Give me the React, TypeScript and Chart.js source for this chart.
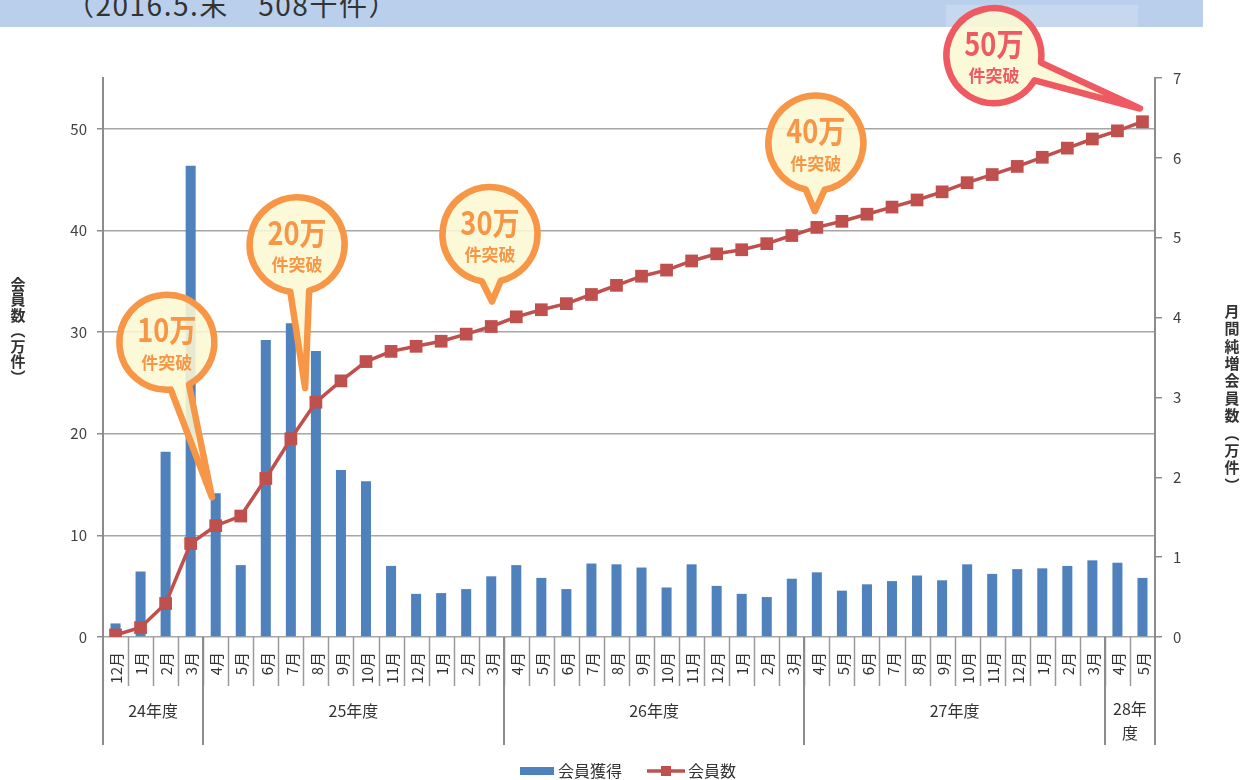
import React, { useEffect, useRef } from 'react';
import { Chart, registerables } from 'chart.js';

Chart.register(...registerables);

const FONT = "'Noto Sans CJK JP', 'Noto Sans', sans-serif";

// ---- data ----
const months = [
  '12月', '1月', '2月', '3月',
  '4月', '5月', '6月', '7月', '8月', '9月', '10月', '11月', '12月', '1月', '2月', '3月',
  '4月', '5月', '6月', '7月', '8月', '9月', '10月', '11月', '12月', '1月', '2月', '3月',
  '4月', '5月', '6月', '7月', '8月', '9月', '10月', '11月', '12月', '1月', '2月', '3月',
  '4月', '5月',
];
const fiscalYears = ['24年度', '25年度', '26年度', '27年度', '28年\n度'];
const fiscalYearSpans = [4, 12, 12, 12, 2];

// 月間純増会員数（万件） – right axis
const memberGain = [
  0.17, 0.82, 2.32, 5.9,
  1.8, 0.9, 3.72, 3.93, 3.58, 2.09, 1.95, 0.89, 0.54, 0.55, 0.6, 0.76,
  0.9, 0.74, 0.6, 0.92, 0.91, 0.87, 0.62, 0.91, 0.64, 0.54, 0.5, 0.73,
  0.81, 0.58, 0.66, 0.7, 0.77, 0.71, 0.91, 0.79, 0.85, 0.86, 0.89, 0.96,
  0.93, 0.74,
];
// 会員数（万件） – left axis
const memberTotal = [
  0.2, 0.93, 3.3, 9.2,
  10.95, 11.9, 15.6, 19.5, 23.1, 25.2, 27.1, 28.1, 28.6, 29.1, 29.8, 30.55,
  31.5, 32.2, 32.8, 33.7, 34.6, 35.5, 36.1, 37.0, 37.7, 38.1, 38.7, 39.5,
  40.3, 40.9, 41.6, 42.3, 43.0, 43.8, 44.7, 45.5, 46.3, 47.2, 48.1, 49.0,
  49.8, 50.7,
];

const leftTitle = '会員数（万件）';
const rightTitle = '月間純増会員数（万件）';
const legendBar = '会員獲得';
const legendLine = '会員数';
const headerText = '（2016.5.末　508千件）';

const calloutLabels = ['10万', '20万', '30万', '40万', '50万'];
const calloutSub = '件突破';
// [index, left-axis value] anchors for circle centres and tail tips
const calloutCenters = [[2.05, 29.0], [7.25, 38.6], [14.95, 39.6], [27.96, 48.6], [35.07, 57.2]];
const calloutTips = [[3.85, 13.75], [7.57, 24.5], [15.03, 33.0], [27.92, 41.9], [40.9, 52.0]];

const ORANGE = '#F79646';
const RED = '#EF5A62';

function drawVertical(ctx: CanvasRenderingContext2D, text: string, x: number, y0: number, step: number) {
  let y = y0;
  for (const ch of text) {
    let c = ch;
    if (ch === '（') c = '︵';
    if (ch === '）') c = '︶';
    ctx.fillText(c, x, y);
    y += step;
  }
}

const decor = {
  id: 'decor',
  afterDatasetsDraw(chart: any) {
    const ctx: CanvasRenderingContext2D = chart.ctx;
    const xs = chart.scales.x;
    const ys = chart.scales.y;
    ctx.save();
    calloutLabels.forEach((lab, k) => {
      const cx = xs.getPixelForValue(calloutCenters[k][0]);
      const cy = ys.getPixelForValue(calloutCenters[k][1]);
      const tx = xs.getPixelForValue(calloutTips[k][0]);
      const ty = ys.getPixelForValue(calloutTips[k][1]);
      const col = k === 4 ? RED : ORANGE;
      const r = 47.5;
      const h = 0.2;
      const a = Math.atan2(ty - cy, tx - cx);
      ctx.beginPath();
      ctx.arc(cx, cy, r, a + h, a - h + Math.PI * 2);
      ctx.lineTo(tx, ty);
      ctx.closePath();
      ctx.fillStyle = 'rgba(252, 248, 212, 0.88)';
      ctx.fill();
      ctx.lineWidth = 6.5;
      ctx.lineJoin = 'round';
      ctx.strokeStyle = col;
      ctx.stroke();
      ctx.fillStyle = col;
      ctx.textAlign = 'center';
      ctx.textBaseline = 'middle';
      ctx.save();
      ctx.translate(cx, cy - 12);
      ctx.scale(0.85, 1);
      ctx.font = `bold 32px ${FONT}`;
      ctx.fillText(lab, 0, 0);
      ctx.restore();
      ctx.font = `bold 17px ${FONT}`;
      ctx.fillText(calloutSub, cx, cy + 20);
    });
    ctx.restore();
  },
  afterDraw(chart: any) {
    const ctx: CanvasRenderingContext2D = chart.ctx;
    const xs = chart.scales.x;
    const area = chart.chartArea;
    const bottom = area.bottom;
    const rowMonth = bottom + 49;
    const rowYear = bottom + 108;
    const n = months.length;
    const edge = (k: number) => {
      if (k <= 0) return area.left;
      if (k >= n) return area.right;
      return (xs.getPixelForValue(k - 1) + xs.getPixelForValue(k)) / 2;
    };
    ctx.save();
    ctx.strokeStyle = '#9A9A9A';
    ctx.lineWidth = 1.5;
    // month separators
    for (let k = 1; k < n; k++) {
      const x = Math.round(edge(k)) + 0.5;
      ctx.beginPath();
      ctx.moveTo(x, bottom);
      ctx.lineTo(x, rowMonth);
      ctx.stroke();
    }
    // year separators
    let acc = 0;
    const bounds = [0];
    fiscalYearSpans.forEach((s) => { acc += s; bounds.push(acc); });
    ctx.strokeStyle = '#8C8C8C';
    ctx.lineWidth = 2;
    bounds.forEach((b) => {
      const x = Math.round(edge(b));
      ctx.beginPath();
      ctx.moveTo(x, bottom);
      ctx.lineTo(x, rowYear);
      ctx.stroke();
    });
    // month labels
    ctx.fillStyle = '#333333';
    ctx.font = `15px ${FONT}`;
    ctx.textAlign = 'right';
    ctx.textBaseline = 'middle';
    months.forEach((m, i) => {
      const x = xs.getPixelForValue(i);
      ctx.save();
      ctx.translate(x + 1, bottom + 15);
      ctx.rotate(-Math.PI / 2);
      ctx.fillText(m, 0, 0);
      ctx.restore();
    });
    // year labels
    ctx.font = `16px ${FONT}`;
    ctx.textAlign = 'center';
    fiscalYears.forEach((fy, j) => {
      const x = (edge(bounds[j]) + edge(bounds[j + 1])) / 2;
      const lines = fy.split('\n');
      if (lines.length === 1) {
        ctx.fillText(fy, x, bottom + 74);
      } else {
        ctx.fillText(lines[0], x, bottom + 72);
        ctx.fillText(lines[1], x, bottom + 96);
      }
    });
    // axis titles
    ctx.font = `bold 15px ${FONT}`;
    ctx.fillStyle = '#333333';
    drawVertical(ctx, leftTitle, 18, 284, 15.5);
    drawVertical(ctx, rightTitle, 1232, 311, 17.4);
    // legend
    const ly = 771;
    ctx.fillStyle = '#4F81BD';
    ctx.fillRect(520, ly - 4, 34, 8);
    ctx.fillStyle = '#333333';
    ctx.font = `16px ${FONT}`;
    ctx.textAlign = 'left';
    ctx.fillText(legendBar, 558, ly);
    ctx.strokeStyle = '#C0504D';
    ctx.lineWidth = 3.5;
    ctx.beginPath();
    ctx.moveTo(647, ly);
    ctx.lineTo(685, ly);
    ctx.stroke();
    ctx.fillStyle = '#C0504D';
    ctx.fillRect(661, ly - 5, 10, 10);
    ctx.fillStyle = '#333333';
    ctx.fillText(legendLine, 688, ly);
    ctx.restore();
  },
};

export default function App() {
  const ref = useRef<HTMLCanvasElement | null>(null);
  useEffect(() => {
    if (!ref.current) return;
    const chart = new Chart(ref.current, {
      type: 'bar',
      data: {
        labels: months,
        datasets: [
          {
            type: 'line',
            label: legendLine,
            data: memberTotal,
            yAxisID: 'y',
            borderColor: '#C0504D',
            backgroundColor: '#C0504D',
            borderWidth: 3.5,
            pointStyle: 'rect',
            pointRadius: 9,
            pointBorderWidth: 0,
            pointBackgroundColor: '#C0504D',
            tension: 0,
            order: 0,
          } as any,
          {
            type: 'bar',
            label: legendBar,
            data: memberGain,
            yAxisID: 'y1',
            backgroundColor: '#4F81BD',
            categoryPercentage: 1,
            barPercentage: 0.4,
            order: 1,
          } as any,
        ],
      },
      options: {
        responsive: false,
        animation: false,
        layout: { padding: { top: 78, bottom: 143, left: 0, right: 0 } },
        plugins: { legend: { display: false }, tooltip: { enabled: false } },
        scales: {
          x: { display: false },
          y: {
            position: 'left',
            min: 0,
            max: 55,
            ticks: { stepSize: 10, color: '#404040', font: { size: 15, family: FONT }, padding: 10 },
            afterBuildTicks: (s: any) => { s.ticks = s.ticks.filter((t: any) => t.value % 10 === 0); },
            afterFit: (s: any) => { s.width = 103; },
            grid: { color: '#A6A6A6', lineWidth: 1.5, tickLength: 6, tickColor: '#8C8C8C' },
            border: { display: true, color: '#8C8C8C', width: 2 },
          },
          y1: {
            position: 'right',
            min: 0,
            max: 7,
            ticks: { stepSize: 1, color: '#404040', font: { size: 15, family: FONT }, padding: 11 },
            afterFit: (s: any) => { s.width = 94; },
            grid: { drawOnChartArea: false, tickLength: 7, tickColor: '#8C8C8C', lineWidth: 1.5 },
            border: { display: true, color: '#8C8C8C', width: 2 },
          },
        },
      } as any,
      plugins: [decor],
    });
    return () => chart.destroy();
  }, []);

  return (
    <div style={{ position: 'fixed', left: 0, top: 0, width: 1249, height: 780, background: '#ffffff', overflow: 'hidden' }}>
      <div style={{ position: 'absolute', left: 0, top: 0, width: 1203, height: 27, background: '#B9CFEB', overflow: 'hidden' }}>
        <div style={{ position: 'absolute', left: 946, top: 5, width: 192, height: 22, background: '#C5D8EE' }} />
        <span style={{ position: 'absolute', left: 66, top: -10, fontFamily: FONT, fontSize: 28, lineHeight: '28px', letterSpacing: '1.5px', color: '#333333', whiteSpace: 'nowrap' }}>
          {headerText}
        </span>
      </div>
      <canvas ref={ref} width={1249} height={780} style={{ position: 'absolute', left: 0, top: 0, width: 1249, height: 780 }} />
    </div>
  );
}
